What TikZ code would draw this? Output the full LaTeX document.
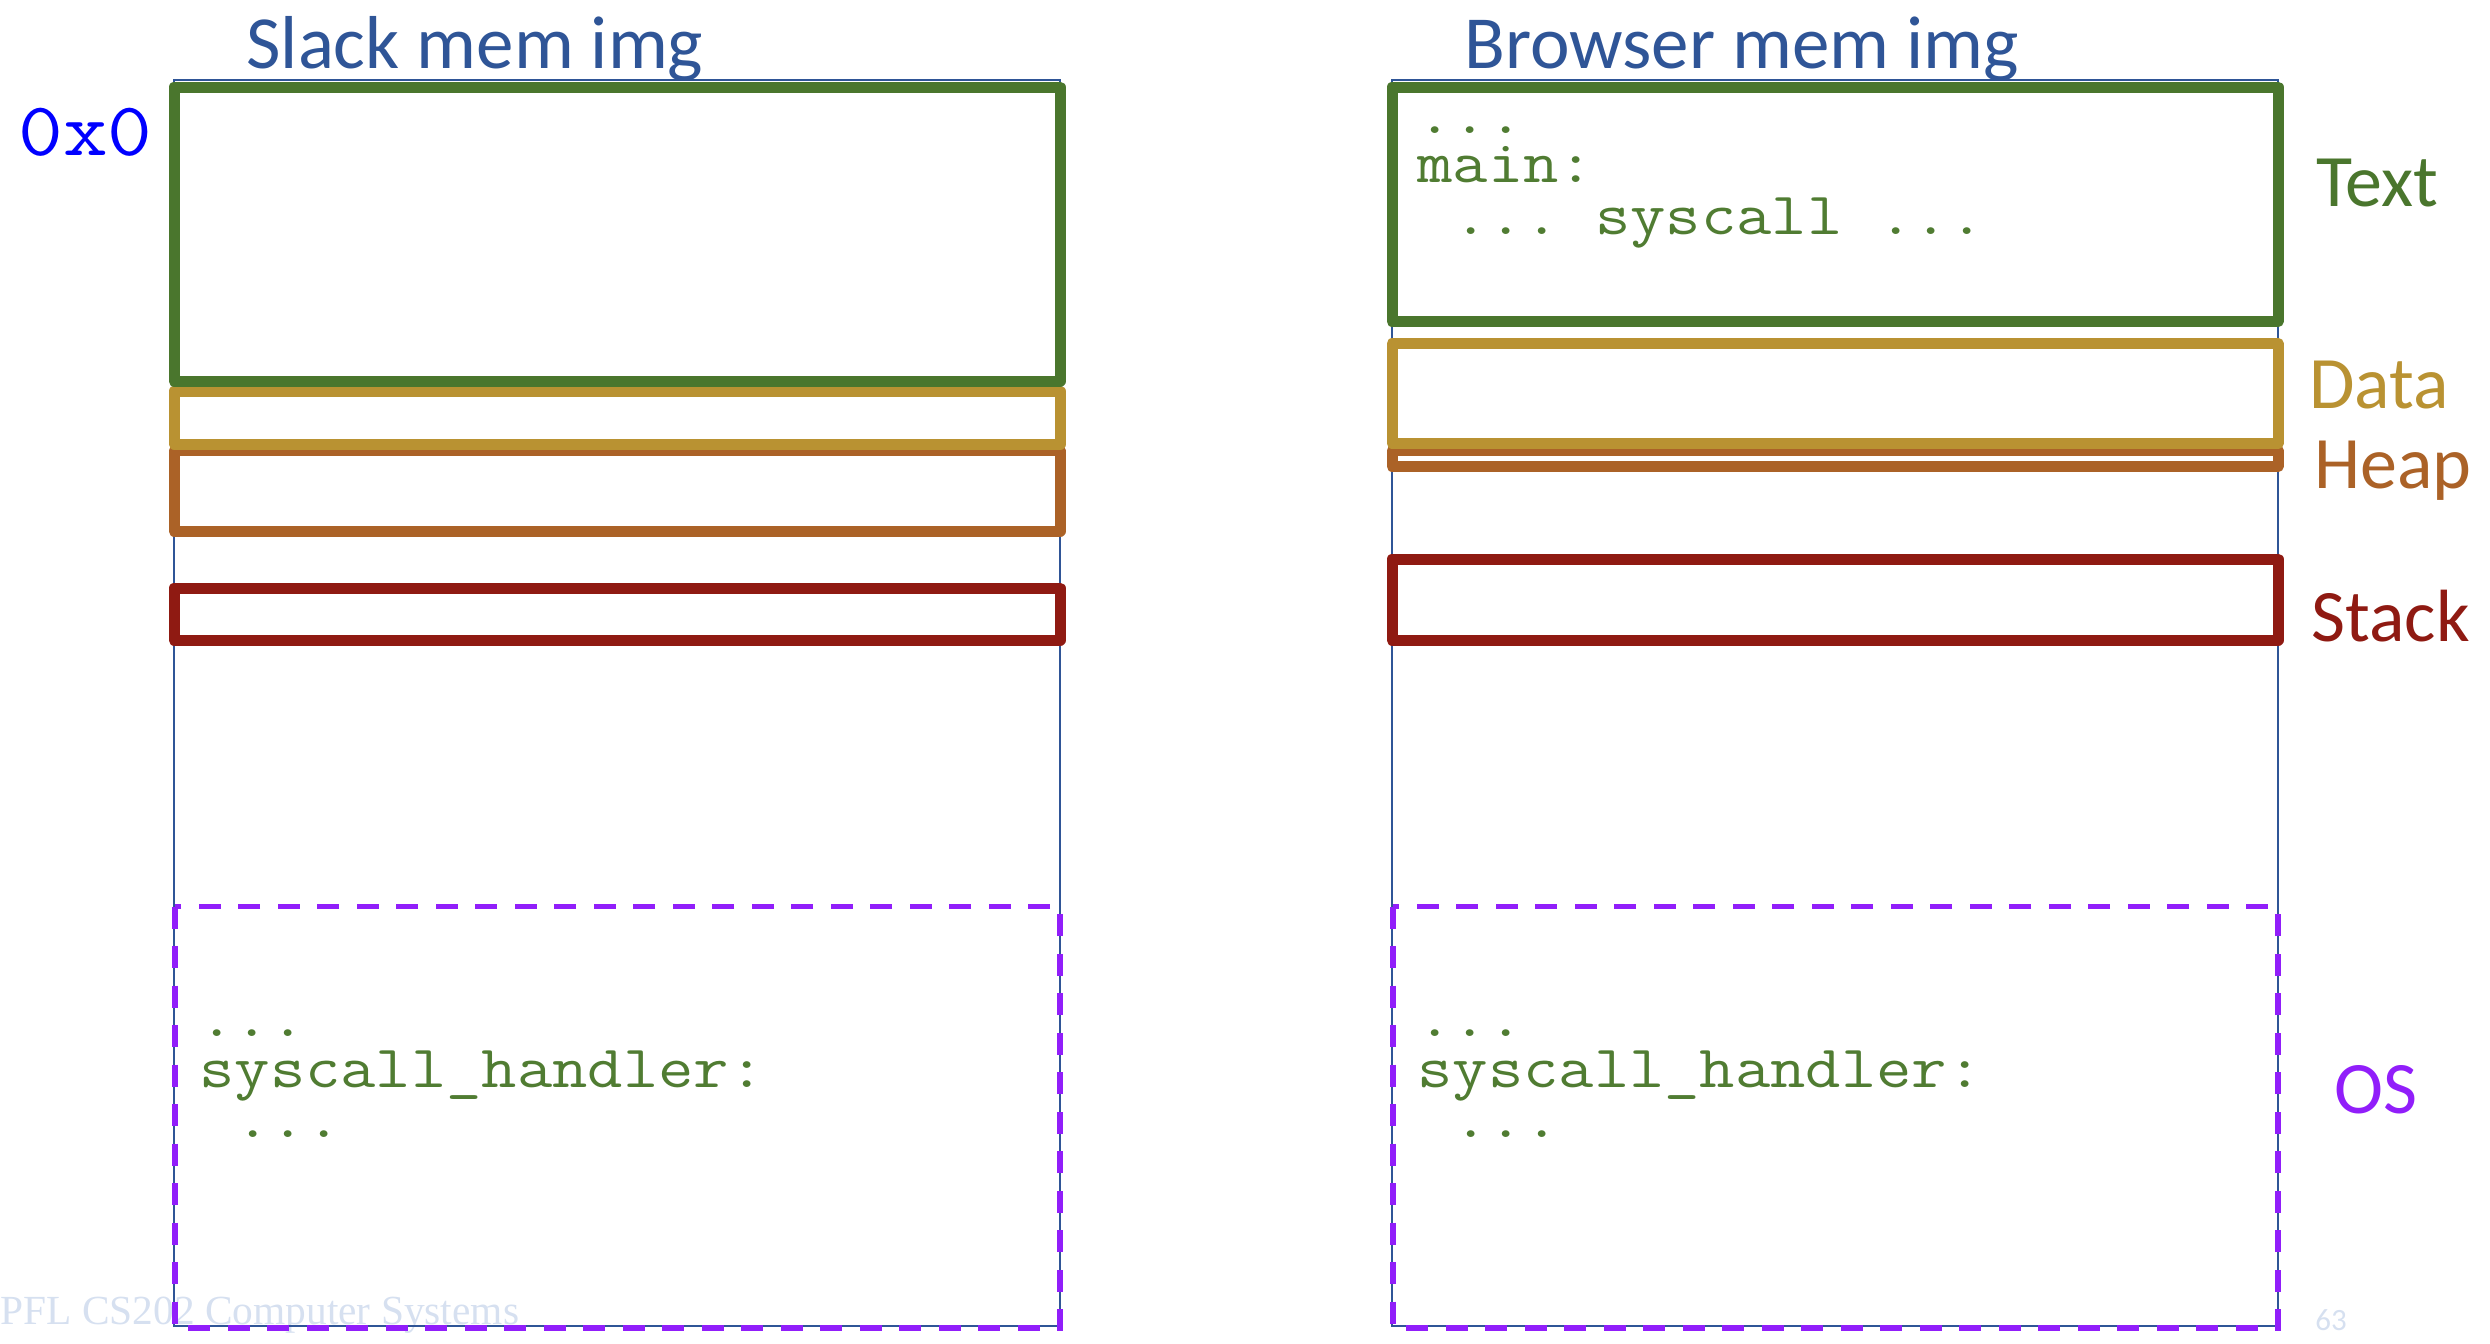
\documentclass[tikz,border=0pt]{standalone}
\usepackage{fontspec}
\setmainfont{Carlito}
\newfontfamily\codefont{Latin Modern Mono}[FakeStretch=1.143]
\newfontfamily\footfont{Liberation Serif}
\definecolor{titleblue}{RGB}{47,85,151}
\definecolor{frameblue}{RGB}{47,85,151}
\definecolor{textgreen}{RGB}{74,118,45}
\definecolor{codegreen}{RGB}{80,124,50}
\definecolor{datagold}{RGB}{185,146,50}
\definecolor{heapbrown}{RGB}{171,98,39}
\definecolor{stackred}{RGB}{143,26,18}
\definecolor{ospurple}{RGB}{145,30,250}
\definecolor{footgray}{RGB}{214,224,240}
\definecolor{addrblue}{RGB}{0,0,255}
\tikzset{
  memframe/.style={draw=frameblue, line width=1.15pt},
  seg/.style={line width=5.5pt, line join=round},
  osbox/.style={draw=ospurple, line width=2.7pt, dash pattern=on 11pt off 8.75pt},
  coltitle/.style={font=\fontsize{37.5}{44}\selectfont, text=titleblue, inner sep=0pt, anchor=base west},
  seglabel/.style={font=\fontsize{37}{44}\selectfont, inner sep=0pt, anchor=base west},
  codetxt/.style={font=\codefont\fontsize{30}{36}\selectfont, text=codegreen, inner sep=0pt, anchor=base west},
  foottxt/.style={inner sep=0pt, anchor=base west, text=footgray},
}
\begin{document}
\begin{tikzpicture}[x=0.5pt,y=-0.5pt]
\useasboundingbox (0,0) rectangle (2490,1344);
% footer
\node[foottxt, font=\footfont\fontsize{20.7}{25}\selectfont] (foot) at (0,1324) {PFL CS202 Computer Systems};
\node[foottxt, font=\fontsize{15.5}{18}\selectfont] (pagenum) at (2315,1330) {63};
% column frames
\draw[memframe] (174,80) rectangle (1060,1326);
\draw[memframe] (1392,80) rectangle (2278,1326);
% Slack segments
\draw[seg, heapbrown] (174,450.5) rectangle (1060,531);
\draw[seg, datagold] (174,391) rectangle (1060,444);
\draw[seg, textgreen] (174,87) rectangle (1060,381);
\draw[seg, stackred] (174,588) rectangle (1060,640);
\draw[osbox] (175,906.5) rectangle (1060,1328);
% Browser segments
\draw[seg, heapbrown] (1392,450.5) rectangle (2278,466.5);
\draw[seg, datagold] (1392,343.5) rectangle (2278,443.5);
\draw[seg, textgreen] (1392,87) rectangle (2278,321.5);
\draw[seg, stackred] (1392,559) rectangle (2278,640);
\draw[osbox] (1393,906.5) rectangle (2278,1328);
% titles
\node[coltitle] (slacktitle) at (246,68.5) {Slack mem img};
\node[coltitle] (browsertitle) at (1464,68.5) {Browser mem img};
\node[font=\codefont\fontsize{38}{44}\selectfont, text=addrblue, inner sep=0pt, anchor=base west] (addr) at (18,155) {0x0};
% segment labels
\node[seglabel, text=textgreen] (labtext) at (2316,206) {Text};
\node[seglabel, text=datagold] (labdata) at (2309,408) {Data};
\node[seglabel, text=heapbrown] (labheap) at (2314,488) {Heap};
\node[seglabel, text=stackred] (labstack) at (2311,641) {Stack};
\node[seglabel, text=ospurple] (labos) at (2334,1113) {OS};
% browser text code
\node[codetxt] (bt1) at (1417,133) {...};
\node[codetxt] (bt2) at (1417,182) {main:};
\node[codetxt] (bt3) at (1453,234) {...\hspace{18pt}syscall\hspace{18pt}...};
% OS code, slack
\node[codetxt] (so1) at (199,1036) {...};
\node[codetxt] (so2) at (199,1087) {syscall\_handler:};
\node[codetxt] (so3) at (235,1137) {...};
% OS code, browser
\node[codetxt] (bo1) at (1417,1036) {...};
\node[codetxt] (bo2) at (1417,1087) {syscall\_handler:};
\node[codetxt] (bo3) at (1453,1137) {...};
\end{tikzpicture}
\end{document}
